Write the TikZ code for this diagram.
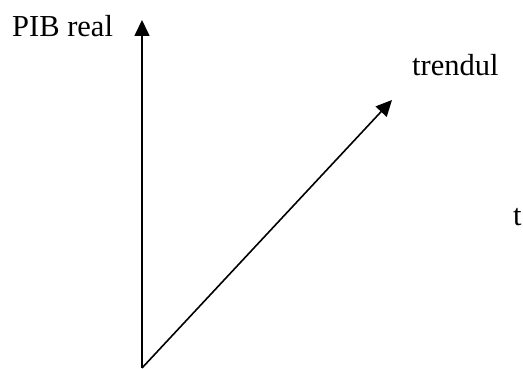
\documentclass[tikz,border=0pt]{standalone}
\usepackage{fontspec}
\setmainfont{Liberation Serif}
\usetikzlibrary{arrows.meta}
\begin{document}
\begin{tikzpicture}[x=1pt,y=1pt,
  axis/.style={line width=1.6pt,-{Triangle[length=16pt,width=15pt]}},
  lbl/.style={anchor=base west,inner sep=0pt,font=\fontsize{30.5}{36}\selectfont}]
\useasboundingbox (0,0) rectangle (523,369);
\coordinate (o) at (142,1);
\coordinate (ytop) at (142,349);
\coordinate (ttop) at (392,269);
\draw[axis] (o) -- (ytop);
\draw[axis] (o) -- (ttop);
\node[lbl] (pib) at (12,332) {PIB real};
\node[lbl] (trend) at (412,293) {trendul};
\node[lbl] (t) at (513,143) {t};
\end{tikzpicture}
\end{document}
